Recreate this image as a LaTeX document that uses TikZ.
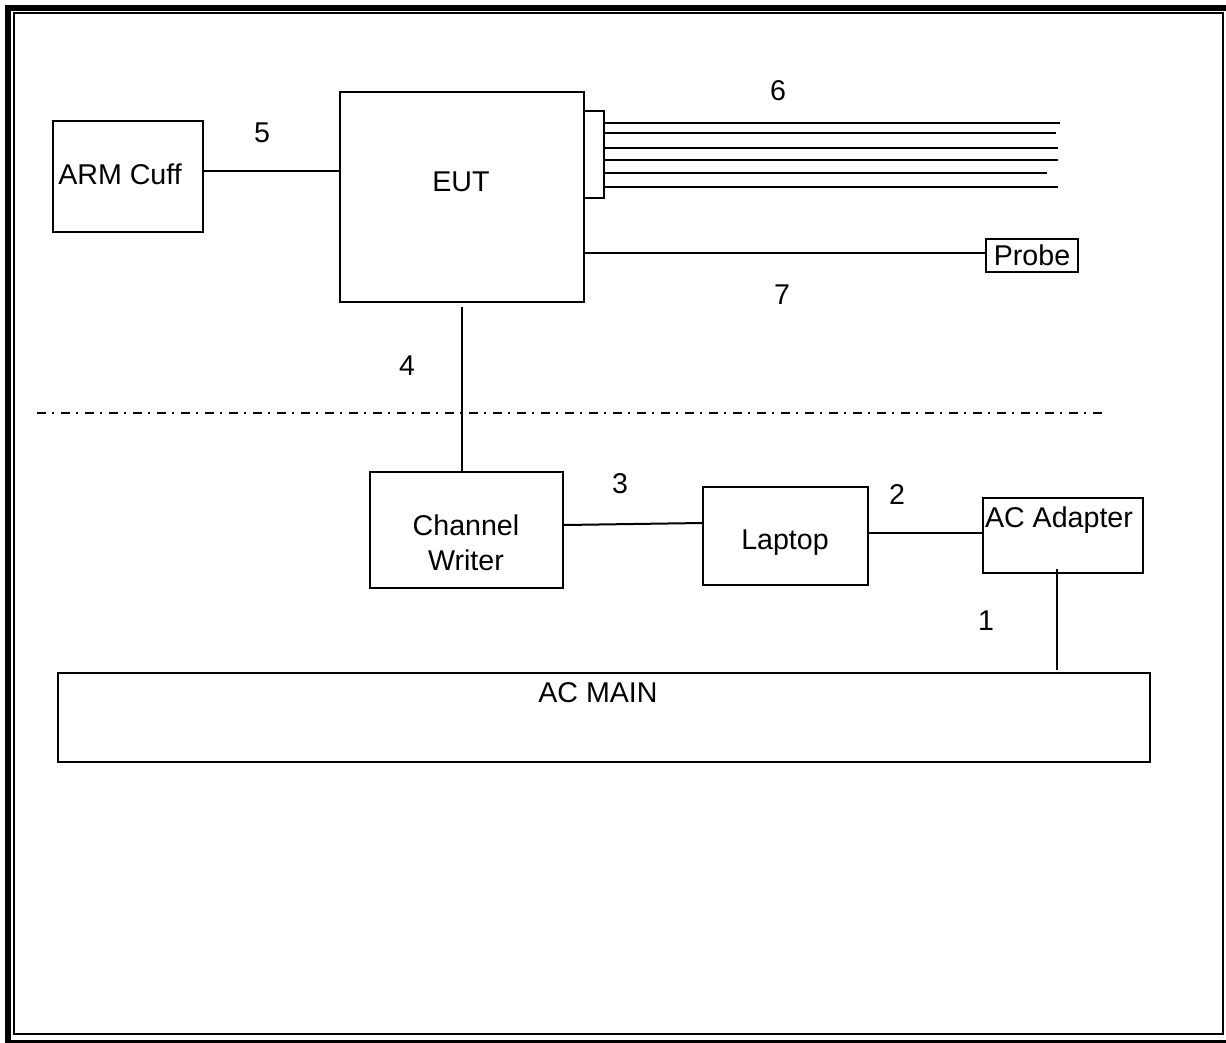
\documentclass[tikz,border=0pt]{standalone}
\usepackage{fontspec}
\setmainfont{Liberation Sans}
\begin{document}
\begin{tikzpicture}[x=1pt,y=-1pt,
  blk/.style={draw,line width=2pt,rectangle,inner sep=0pt},
  txt/.style={anchor=base,inner sep=0pt,font=\fontsize{28.6}{35}\selectfont},
  wire/.style={line width=2pt}]
\useasboundingbox (0,0) rectangle (1226,1042);
% page border (thick-thin)
\draw[line width=6pt] (8,7.5) rectangle (1229,1043);
\draw[line width=2pt] (14,12.5) rectangle (1223,1034);
% boxes
\node[blk,minimum width=150pt,minimum height=111pt] (arm) at (128,176.5) {};
\node[blk,minimum width=244pt,minimum height=210pt] (eut) at (462,197) {};
\node[blk,minimum width=20pt,minimum height=87pt] (conn) at (594,154.5) {};
\node[blk,minimum width=92pt,minimum height=33pt] (probe) at (1032,255.5) {};
\node[blk,minimum width=193pt,minimum height=116pt] (cw) at (466.5,530) {};
\node[blk,minimum width=165pt,minimum height=98pt] (lap) at (785.5,536) {};
\node[blk,minimum width=160pt,minimum height=75pt] (ada) at (1063,535.5) {};
\node[blk,minimum width=1092pt,minimum height=89pt] (main) at (604,717.5) {};
% texts
\node[txt] (tarm) at (120,184) {ARM Cuff};
\node[txt] (teut) at (461,191) {EUT};
\node[txt] (tprobe) at (1032,265) {Probe};
\node[txt] (tcw1) at (466,535) {Channel};
\node[txt] (tcw2) at (466,570) {Writer};
\node[txt] (tlap) at (785,549) {Laptop};
\node[txt] (tada) at (1059,527) {AC Adapter};
\node[txt] (tmain) at (598,702) {AC MAIN};
% numbers
\node[txt] (n5) at (262,142) {5};
\node[txt] (n6) at (778,100) {6};
\node[txt] (n7) at (782,304) {7};
\node[txt] (n4) at (407,375) {4};
\node[txt] (n3) at (620,493) {3};
\node[txt] (n2) at (897,504) {2};
\node[txt] (n1) at (986,630) {1};
% connectors
\coordinate (y5) at (0,171);
\draw[wire] (arm.east |- y5) -- (eut.west |- y5);
\coordinate (e1) at (1060,123);
\coordinate (e2) at (1056,133);
\coordinate (e3) at (1058,148);
\coordinate (e4) at (1058,160);
\coordinate (e5) at (1047,173);
\coordinate (e6) at (1058,187);
\foreach \i in {1,...,6} \draw[wire] (conn.east |- e\i) -- (e\i);
\coordinate (y7) at (0,253);
\draw[wire] (eut.east |- y7) -- (probe.west |- y7);
\draw[wire] ([yshift=-4pt]eut.south) -- (eut.south |- cw.north);
\coordinate (y3a) at (0,525);
\coordinate (y3b) at (0,523);
\draw[wire] (cw.east |- y3a) -- (lap.west |- y3b);
\coordinate (y2) at (0,533);
\draw[wire] (lap.east |- y2) -- (ada.west |- y2);
\coordinate (x1) at (1057,569);
\coordinate (x1b) at (1057,670);
\draw[wire] (x1) -- (x1b);
% dash-dot separator
\coordinate (d1) at (37,413);
\coordinate (d2) at (1103,413);
\draw[line width=2pt,dash pattern=on 9pt off 6pt on 2pt off 7pt] (d1) -- (d2);
\end{tikzpicture}
\end{document}
